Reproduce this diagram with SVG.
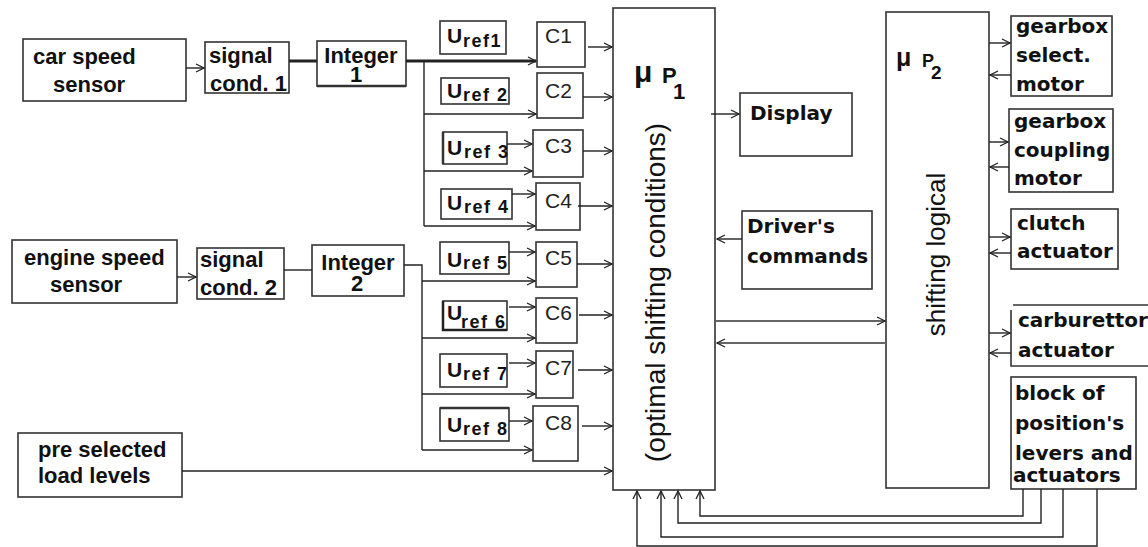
<svg xmlns="http://www.w3.org/2000/svg" width="1148" height="547" viewBox="0 0 1148 547">
<defs>
<marker id="ar" markerUnits="userSpaceOnUse" markerWidth="12" markerHeight="12" refX="9" refY="5" orient="auto">
<path d="M1,1 L9,5 L1,9" fill="none" stroke="#222" stroke-width="1.3"/>
</marker>
<style>
rect,.bx{fill:none;stroke:#333;stroke-width:1.6}
.c{fill:none;stroke:#222;stroke-width:1.4}
.a{marker-end:url(#ar)}
.g{stroke:#666;stroke-width:2}
.lt{font-family:"Liberation Sans",Arial,sans-serif;font-weight:bold;font-size:22px;fill:#111}
.rt{font-family:"DejaVu Sans",Verdana,sans-serif;font-weight:bold;font-size:20px;fill:#111}
.u{font-family:"Liberation Sans",Arial,sans-serif;font-weight:bold;font-size:21px;fill:#111}
.s{font-size:18px;letter-spacing:1.5px}
.cc{font-family:"Liberation Sans",Arial,sans-serif;font-size:21px;fill:#222}
.v{font-family:"Liberation Sans",Arial,sans-serif;fill:#111}
</style>
</defs>
<rect x="0" y="0" width="1148" height="547" style="fill:#fff;stroke:none"/>

<g id="car-speed-sensor"><rect x="23" y="39" width="163" height="62"/><text class="lt" x="33" y="64">car speed</text><text class="lt" x="53" y="92">sensor</text></g>
<g id="signal-cond-1"><rect x="205" y="42" width="84" height="51"/><text class="lt" x="209" y="63">signal</text><text class="lt" x="210" y="91">cond. 1</text></g>
<g id="integer-1"><rect x="317" y="41" width="89" height="45"/><line x1="317" y1="86" x2="406" y2="86" style="stroke:#333;stroke-width:2.5"/><text class="lt" x="361" y="63" text-anchor="middle">Integer<tspan x="356" y="82">1</tspan></text></g>

<g id="engine-speed-sensor"><rect x="12" y="240" width="165" height="63"/><text class="lt" x="24" y="265">engine speed</text><text class="lt" x="50" y="292">sensor</text></g>
<g id="signal-cond-2"><rect x="197" y="248" width="87" height="51"/><text class="lt" x="200" y="267">signal</text><text class="lt" x="200" y="295">cond. 2</text></g>
<g id="integer-2"><rect x="312" y="245" width="92" height="51"/><text class="lt" x="358" y="270" text-anchor="middle">Integer<tspan x="357" y="291">2</tspan></text></g>

<g id="pre-selected"><rect x="18" y="433" width="164" height="64"/><text class="lt" x="38" y="457">pre selected</text><text class="lt" x="38" y="483">load levels</text></g>

<g id="uref1"><rect x="440" y="21" width="66" height="33"/><text class="u" x="447" y="43">U<tspan class="s" x="463" y="47">ref1</tspan></text></g>
<g id="uref2"><rect x="441" y="78" width="68" height="26"/><text class="u" x="447" y="98">U<tspan class="s" x="463" y="101">ref 2</tspan></text></g>
<g id="uref3"><rect x="443" y="132" width="64" height="32"/><line x1="443" y1="132" x2="443" y2="164" style="stroke:#333;stroke-width:2.5"/><text class="u" x="447" y="155">U<tspan class="s" x="464" y="158">ref 3</tspan></text></g>
<g id="uref4"><rect x="441" y="189" width="71" height="30"/><text class="u" x="447" y="210">U<tspan class="s" x="464" y="213">ref 4</tspan></text></g>
<g id="uref5"><rect x="440" y="242" width="69" height="32"/><text class="u" x="447" y="267">U<tspan class="s" x="463" y="269">ref 5</tspan></text></g>
<g id="uref6"><rect x="443" y="301" width="64" height="29"/><path d="M443,301 V330 H507" class="c" style="stroke-width:2.5"/><text class="u" x="447" y="320">U<tspan class="s" x="461" y="328">ref 6</tspan></text></g>
<g id="uref7"><rect x="440" y="354" width="67" height="33"/><text class="u" x="447" y="377">U<tspan class="s" x="463" y="380">ref 7</tspan></text></g>
<g id="uref8"><rect x="440" y="408" width="69" height="33"/><line x1="440" y1="408" x2="509" y2="408" style="stroke:#333;stroke-width:2.5"/><text class="u" x="447" y="432">U<tspan class="s" x="463" y="435">ref 8</tspan></text></g>

<g id="c1"><rect x="537" y="22" width="48" height="45"/><text class="cc" x="545" y="43">C1</text></g>
<g id="c2"><rect x="537" y="73" width="46" height="45"/><text class="cc" x="545" y="98">C2</text></g>
<g id="c3"><rect x="533" y="130" width="50" height="47"/><text class="cc" x="545" y="153">C3</text></g>
<g id="c4"><rect x="536" y="183" width="44" height="47"/><text class="cc" x="545" y="208">C4</text></g>
<g id="c5"><rect x="536" y="242" width="41" height="45"/><text class="cc" x="545" y="265">C5</text></g>
<g id="c6"><rect x="536" y="298" width="41" height="45"/><text class="cc" x="545" y="320">C6</text></g>
<g id="c7"><rect x="536" y="351" width="37" height="47"/><text class="cc" x="545" y="375">C7</text></g>
<g id="c8"><rect x="533" y="406" width="45" height="55"/><text class="cc" x="545" y="430">C8</text></g>

<g id="up1"><rect x="613" y="8" width="102" height="482"/>
<text class="v" x="634" y="82" font-size="30" font-weight="bold">μ<tspan x="662" y="83" font-size="22">P</tspan><tspan x="673" y="99" font-size="22">1</tspan></text>
<text class="v" font-size="28" text-anchor="middle" transform="translate(665,292.5) rotate(-90)">(optimal shifting conditions)</text>
</g>

<g id="display"><rect x="740" y="93" width="112" height="63"/><text class="rt" x="750" y="120">Display</text></g>
<g id="drivers-commands"><rect x="742" y="211" width="130" height="78"/><text class="rt" x="747" y="233">Driver's</text><text class="rt" x="747" y="263">commands</text></g>

<g id="up2"><rect x="886" y="12" width="103" height="476"/>
<text class="v" x="896" y="66" font-size="25" font-weight="bold">μ<tspan x="922" y="67" font-size="18">P</tspan><tspan x="931" y="79" font-size="19">2</tspan></text>
<text class="v" font-size="26" text-anchor="middle" transform="translate(945,254.5) rotate(-90)">shifting logical</text>
</g>

<g id="gearbox-select"><rect x="1011" y="16" width="101" height="80"/><text class="rt" x="1016" y="33">gearbox</text><text class="rt" x="1016" y="62">select.</text><text class="rt" x="1016" y="91">motor</text></g>
<g id="gearbox-coupling"><rect x="1009" y="109" width="104" height="83"/><text class="rt" x="1014" y="128">gearbox</text><text class="rt" x="1014" y="157">coupling</text><text class="rt" x="1014" y="185">motor</text></g>
<g id="clutch"><rect x="1011" y="209" width="107" height="60"/><text class="rt" x="1017" y="230">clutch</text><text class="rt" x="1017" y="258">actuator</text></g>
<g id="carburettor"><path class="bx" d="M1013,305 H1148 M1011,310 V366 H1148"/><text class="rt" x="1018" y="327">carburettor</text><text class="rt" x="1018" y="357">actuator</text></g>
<g id="block-levers"><rect x="1011" y="377" width="125" height="112"/><text class="rt" x="1015" y="400">block of</text><text class="rt" x="1015" y="430">position's</text><text class="rt" x="1015" y="460">levers and</text><text class="rt" x="1013" y="482">actuators</text></g>

<g id="connectors">
<path class="c a" d="M186,68 H204"/>
<path class="c" d="M289,61 H317" style="stroke-width:3"/>
<path class="c a" d="M406,61 H536" style="stroke-width:3"/>
<path class="c" d="M424,61 V226"/>
<path class="c a" d="M424,114 H536"/>
<path class="c a" d="M424,171 H532"/>
<path class="c a" d="M424,226 H535"/>
<path class="c a" d="M177,277 H196"/>
<path class="c" d="M284,270 H312"/>
<path class="c" d="M404,265 H422 V450"/>
<path class="c a" d="M422,281 H535"/>
<path class="c a" d="M422,338 H535"/>
<path class="c a" d="M422,394 H535"/>
<path class="c a" d="M422,450 H532"/>
<path class="c a" d="M507,144 H532"/>
<path class="c a" d="M512,194 H535"/>
<path class="c a" d="M509,252 H535"/>
<path class="c a" d="M509,307 H535"/>
<path class="c a" d="M509,363 H535"/>
<path class="c a" d="M509,421 H532"/>
<path class="c a" d="M588,47 H612"/>
<path class="c a" d="M583,97 H612"/>
<path class="c a" d="M583,151 H612"/>
<path class="c a" d="M578,206 H612"/>
<path class="c a" d="M577,264 H612"/>
<path class="c a" d="M579,315 H612"/>
<path class="c a" d="M578,370 H612"/>
<path class="c a" d="M582,426 H612"/>
<path class="c a" d="M182,471 H612"/>
<path class="c a" d="M711,114 H739"/>
<path class="c a" d="M742,239 H717"/>
<path class="c a g" d="M716,321 H885"/>
<path class="c a g" d="M886,343 H717"/>
<path class="c a" d="M989,43 H1010"/>
<path class="c a" d="M1011,75 H990"/>
<path class="c a" d="M989,142 H1008"/>
<path class="c a" d="M1009,167 H990"/>
<path class="c a" d="M989,237 H1010"/>
<path class="c a" d="M1011,253 H990"/>
<path class="c a" d="M989,333 H1010"/>
<path class="c a" d="M1011,353 H990"/>
<path class="c a" d="M1023,489 V516 H700 V491"/>
<path class="c a" d="M1041,489 V523 H678 V491"/>
<path class="c a" d="M1063,489 V537 H661 V491"/>
<path class="c a" d="M1097,489 V546 H637 V491"/>
</g>
</svg>
